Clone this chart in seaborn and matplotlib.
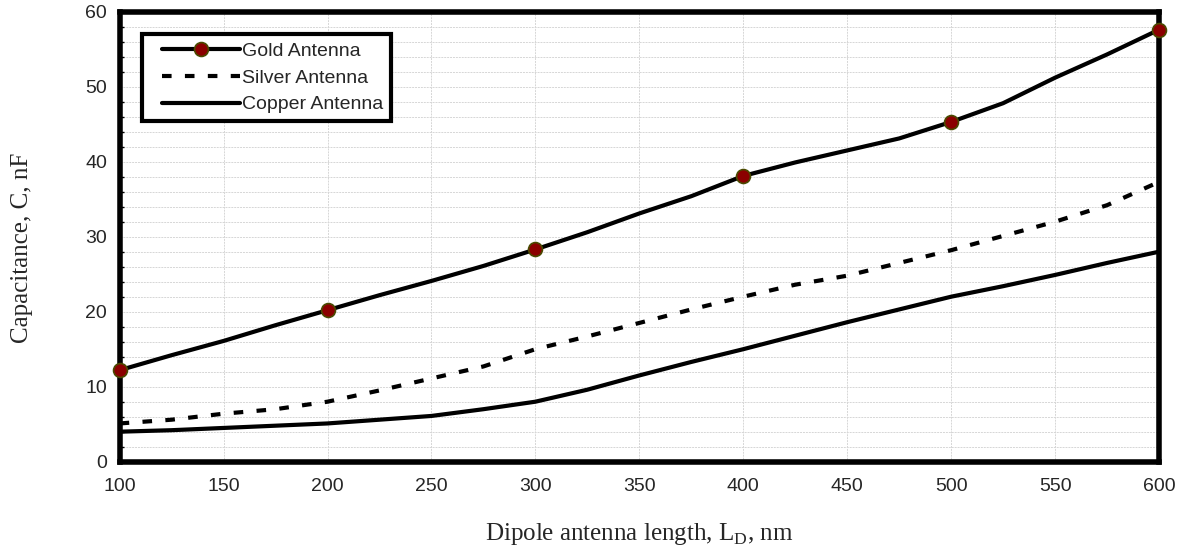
import matplotlib
matplotlib.use("Agg")
import matplotlib.pyplot as plt
from matplotlib.lines import Line2D
from matplotlib.legend_handler import HandlerLine2D
from matplotlib.ticker import MultipleLocator
import numpy as np
import pandas as pd
import seaborn as sns

# Dipole antenna length (nm)
length_nm = [100, 125, 150, 175, 200, 225, 250, 275, 300, 325, 350,
             375, 400, 425, 450, 475, 500, 525, 550, 575, 600]

# Capacitance (nF) for each antenna material
gold_nf = [12.2, 14.2, 16.1, 18.2, 20.2, 22.2, 24.1, 26.1, 28.3, 30.6, 33.1,
           35.4, 38.1, 39.9, 41.5, 43.1, 45.3, 47.8, 51.2, 54.3, 57.6]
silver_nf = [5.1, 5.6, 6.4, 7.0, 8.0, 9.5, 11.1, 12.7, 15.0, 16.7, 18.5,
             20.3, 22.0, 23.6, 24.8, 26.5, 28.2, 30.1, 32.0, 34.2, 37.3]
copper_nf = [4.0, 4.2, 4.5, 4.8, 5.1, 5.6, 6.1, 7.0, 8.0, 9.6, 11.5,
             13.3, 15.0, 16.8, 18.6, 20.3, 22.0, 23.4, 24.9, 26.5, 28.0]

series_names = ["Gold Antenna", "Silver Antenna", "Copper Antenna"]

df = pd.DataFrame({"L": length_nm, "Gold": gold_nf,
                   "Silver": silver_nf, "Copper": copper_nf})

sns.set_style("white")
plt.rcParams["font.family"] = ["Liberation Sans", "DejaVu Sans"]

fig = plt.figure(figsize=(11.81, 5.46), dpi=100)
ax = fig.add_axes([0.1013, 0.1544, 0.8801, 0.8242])

lw = 3.0
silver_dash = [2.3, 3.2]
marker_idx = [i for i, v in enumerate(length_nm) if v % 100 == 0]
marker_style = dict(marker="o", markersize=10, markerfacecolor="#8b0000",
                    markeredgecolor="#4a4a00", markeredgewidth=1.2)

sns.lineplot(data=df, x="L", y="Gold", ax=ax, color="black", linewidth=lw,
             markevery=marker_idx, zorder=5, clip_on=False, **marker_style)
sns.lineplot(data=df, x="L", y="Silver", ax=ax, color="black", linewidth=lw,
             zorder=4)
ax.lines[-1].set_dashes(silver_dash)
ax.lines[-1].set_dash_capstyle("butt")
sns.lineplot(data=df, x="L", y="Copper", ax=ax, color="black", linewidth=lw,
             zorder=4)

ax.set_xlim(100, 600)
ax.set_ylim(0, 60)
ax.xaxis.set_major_locator(MultipleLocator(50))
ax.yaxis.set_major_locator(MultipleLocator(10))
ax.yaxis.set_minor_locator(MultipleLocator(2))

grid_kw = dict(color="#d6d6d6", linestyle=(0, (2, 1)), linewidth=0.7)
ax.grid(True, which="major", axis="x", **grid_kw)
ax.grid(True, which="both", axis="y", **grid_kw)
ax.set_axisbelow(True)

for side in ["left", "right", "top", "bottom"]:
    ax.spines[side].set_visible(True)
    ax.spines[side].set_color("black")
    ax.spines[side].set_linewidth(4.0)

ax.tick_params(axis="both", which="major", direction="in", length=5,
               width=1.2, color="black", labelsize=14, pad=9)
ax.tick_params(axis="y", which="minor", direction="in", length=3,
               width=1.0, color="black", left=True)
ax.tick_params(axis="x", which="major", pad=12)

ax.set_xlabel("Dipole antenna length, L$_\\mathregular{D}$, nm",
              family="Liberation Serif", fontsize=18)
ax.xaxis.set_label_coords(0.5, -0.132)
ax.set_ylabel("Capacitance, C, nF", family="Liberation Serif", fontsize=18)
ax.yaxis.set_label_coords(-0.083, 0.475)

handles = [
    Line2D([], [], color="black", linewidth=lw, **marker_style),
    Line2D([], [], color="black", linewidth=lw, dashes=silver_dash,
           dash_capstyle="butt"),
    Line2D([], [], color="black", linewidth=lw),
]
padded = HandlerLine2D(xpad=0.62)
leg = ax.legend(handles, series_names, loc="upper left",
                bbox_to_anchor=(0.0216, 0.950), frameon=True, fancybox=False,
                fontsize=14, handlelength=4.62, handletextpad=0.1,
                borderpad=0.4, labelspacing=0.48, borderaxespad=0,
                handler_map={h: padded for h in handles})
leg.get_frame().set_edgecolor("black")
leg.get_frame().set_linewidth(3.0)
leg.get_frame().set_facecolor("white")
leg.get_frame().set_alpha(1)

fig.savefig("out.png", dpi=100, facecolor="white")
